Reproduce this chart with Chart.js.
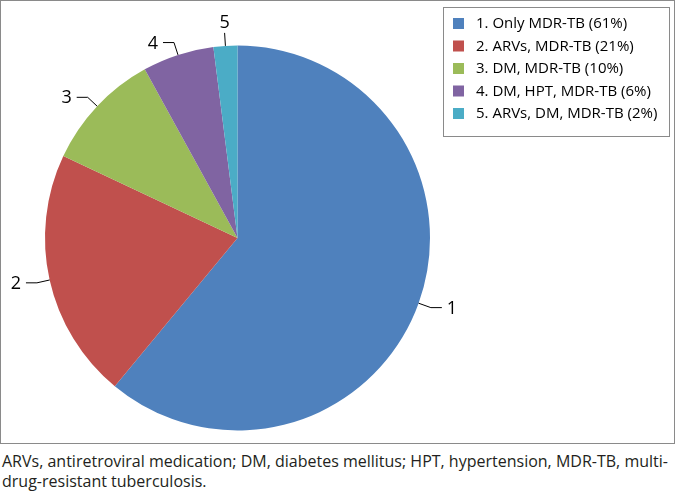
<!DOCTYPE html>
<html>
<head>
<meta charset="utf-8">
<script src="https://cdn.jsdelivr.net/npm/chart.js@4/dist/chart.umd.min.js"></script>
<style>
    body { margin: 0; background: #fff; }
    #frame { position: absolute; left: 0; top: 0; width: 673px; height: 442px; border: 1px solid #8a8a8a; }
    #caption { position: absolute; left: 2px; top: 451px; white-space: nowrap; font: 16px/20px "Open Sans", sans-serif; color: #231f20; }
</style>
</head>
<body>
<div id="frame"><canvas id="pie" width="673" height="442"></canvas></div>
<div id="caption">ARVs, antiretroviral medication; DM, diabetes mellitus; HPT, hypertension, MDR-TB, multi-<br>drug-resistant tuberculosis.</div>
<script>
const sliceNumbers = ["1", "2", "3", "4", "5"]
const groupNames = [
    "Only MDR-TB",
    "ARVs, MDR-TB",
    "DM, MDR-TB",
    "DM, HPT, MDR-TB",
    "ARVs, DM, MDR-TB",
]
const shares = [61, 21, 10, 6, 2]
const sliceColors = ["#4f81bd", "#c0504d", "#9bbb59", "#8064a2", "#4bacc6"]

const legendLabels = groupNames.map((name, i) => `${sliceNumbers[i]}. ${name} (${shares[i]}%)`)

// leader lines with the slice number outside the pie
const leaderLabels = {
    id: "leaderLabels",
    afterDatasetsDraw(chart) {
        const ctx = chart.ctx
        const arcs = chart.getDatasetMeta(0).data
        ctx.save()
        ctx.strokeStyle = "#000"
        ctx.lineWidth = 1
        ctx.fillStyle = "#000"
        ctx.font = '18px "Open Sans", sans-serif'
        arcs.forEach((arc, i) => {
            const mid = (arc.startAngle + arc.endAngle) / 2
            const cos = Math.cos(mid)
            const sin = Math.sin(mid)
            const r = arc.outerRadius
            const x0 = arc.x + cos * r
            const y0 = arc.y + sin * r
            const x1 = arc.x + cos * (r + 13)
            const y1 = arc.y + sin * (r + 13)
            ctx.beginPath()
            ctx.moveTo(x0, y0)
            if (Math.abs(cos) < 0.15) {
                ctx.lineTo(x1, y1)
                ctx.stroke()
                ctx.textAlign = "center"
                ctx.textBaseline = "bottom"
                ctx.fillText(sliceNumbers[i], x1, y1 - 1)
                return
            }
            const dir = cos > 0 ? 1 : -1
            const x2 = x1 + dir * 11
            ctx.lineTo(x1, y1)
            ctx.lineTo(x2, y1)
            ctx.stroke()
            ctx.textAlign = dir > 0 ? "left" : "right"
            ctx.textBaseline = "middle"
            ctx.fillText(sliceNumbers[i], x2 + dir * 5, y1 + 1)
        })
        ctx.restore()
    },
}

// boxed legend in the top right corner
const boxedLegend = {
    id: "boxedLegend",
    afterDraw(chart) {
        const ctx = chart.ctx
        const left = 442
        const top = 6
        ctx.save()
        ctx.strokeStyle = "#8a8a8a"
        ctx.lineWidth = 1
        ctx.strokeRect(left + 0.5, top + 0.5, 226, 129)
        ctx.font = '15px "Open Sans", sans-serif'
        ctx.textBaseline = "middle"
        ctx.textAlign = "left"
        legendLabels.forEach((text, i) => {
            const y = top + 16 + i * 22.5
            ctx.fillStyle = sliceColors[i]
            ctx.fillRect(left + 10, y - 5, 11, 11)
            ctx.fillStyle = "#000"
            ctx.fillText(text, left + 33, y + 1)
        })
        ctx.restore()
    },
}

new Chart(document.getElementById("pie"), {
    type: "pie",
    data: {
        labels: legendLabels,
        datasets: [
            {
                data: shares,
                backgroundColor: sliceColors,
                borderWidth: 0,
            },
        ],
    },
    options: {
        responsive: false,
        animation: false,
        layout: {
            padding: { left: 44, right: 244, top: 44, bottom: 12 },
        },
        plugins: {
            legend: { display: false },
            tooltip: { enabled: false },
        },
    },
    plugins: [leaderLabels, boxedLegend],
})
</script>
</body>
</html>
